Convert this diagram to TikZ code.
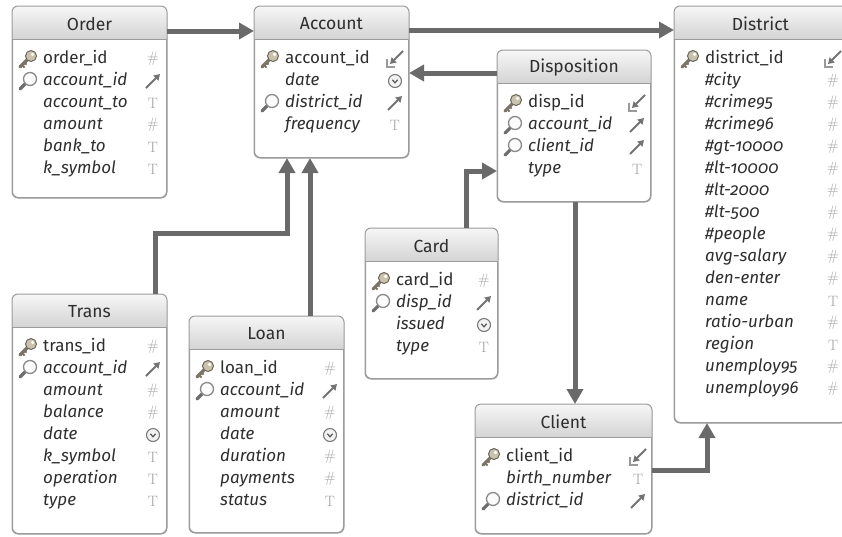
\documentclass[tikz,border=0pt]{standalone}
\usepackage{fontspec}
\usetikzlibrary{arrows.meta,calc}
\newfontfamily\uifont{Fira Sans}
\newfontfamily\fldfont[Numbers=OldStyle]{Fira Sans}
\definecolor{boxline}{HTML}{9C9C9C}
\definecolor{hdrtop}{HTML}{F6F6F6}
\definecolor{hdrbot}{HTML}{D4D4D4}
\definecolor{conncol}{HTML}{6A6A6A}
\definecolor{txt}{HTML}{2E2E2E}
\definecolor{icongray}{HTML}{A0A0A0}
\definecolor{arrowgray}{HTML}{737373}
\definecolor{keyline}{HTML}{7A7566}
\definecolor{keyring}{HTML}{6A665A}
\definecolor{keyfill}{HTML}{C9C3AE}
\definecolor{maghandle}{HTML}{6E6E6E}
\definecolor{magring}{HTML}{8A8A8A}
\definecolor{magfill}{HTML}{FBFBFB}
\definecolor{clockline}{HTML}{7A7A7A}
\definecolor{clockfill}{HTML}{F2F2F2}
\definecolor{clockhand}{HTML}{555555}
\definecolor{pkbox}{HTML}{9A9A9A}
\tikzset{
  boxbody/.style={draw=boxline, line width=1pt, rounded corners=6pt, fill=white, inner sep=0pt},
  boxtitle/.style={font=\uifont\fontsize{17.5}{20}\selectfont, text=txt, inner sep=0pt},
  fieldpk/.style={font=\uifont\fontsize{17}{20}\selectfont, text=txt, inner sep=0pt, anchor=west, text height=12pt, text depth=4pt},
  fieldit/.style={font=\fldfont\itshape\fontsize{17}{20}\selectfont, text=txt, inner sep=0pt, anchor=west, text height=12pt, text depth=4pt},
  icontext/.style={text=icongray, inner sep=0pt, font=\fontsize{15}{16}\selectfont},
  conn/.style={draw=conncol, line width=5pt, -{Triangle[length=15pt,width=16pt]}},
  iconn/.pic={},
  iconk/.pic={
    \draw[line width=3.2pt, draw=keyline, line cap=round] (1,-1) -- (-8,8);
    \draw[line width=1.8pt, draw=keyline] (-6,6) -- (-3.5,8.5) (-3.5,3.5) -- (-1.5,5.5);
    \draw[line width=1pt, draw=keyring, fill=keyfill] (3,-3) circle (5.5);
    \fill[white] (4.6,-4.6) circle (1.8);
  },
  iconm/.pic={
    \draw[line width=3.2pt, draw=maghandle, line cap=round] (-2.5,2.5) -- (-8,8);
    \draw[line width=1.3pt, draw=magring, fill=magfill] (2,-2) circle (6.5);
  },
  iconh/.pic={\node[icontext] (-n) {\#};},
  icont/.pic={\node[icontext, font=\rmfamily\fontsize{15}{16}\selectfont] (-n) {T};},
  iconc/.pic={
    \draw[line width=1.1pt, draw=clockline, fill=clockfill] (0,0) circle (6.5);
    \draw[line width=1.2pt, draw=clockhand] (-2.6,-1.2) -- (0,1.8) -- (2.6,-1.2);
  },
  iconf/.pic={
    \draw[line width=2pt, draw=arrowgray, -{Triangle[length=6pt,width=7pt]}] (-7,7) -- (7,-7);
  },
  iconp/.pic={
    \draw[line width=1.3pt, draw=pkbox] (-8,0) -- (-8,8) -- (0,8);
    \draw[line width=2pt, draw=arrowgray, -{Triangle[length=6pt,width=7pt]}] (8,-8) -- (-5,5);
  }
}
% box: name, x, y, width, height, title
\newcommand\erbox[6]{%
  \node[boxbody, minimum width=#4, minimum height=#5, anchor=north west] (#1) at (#2,#3) {};
  \shade[top color=hdrtop, bottom color=hdrbot]
    ([yshift=-33pt]#1.north west) [rounded corners=6pt] -- (#1.north west) -- (#1.north east) [sharp corners] -- ([yshift=-33pt]#1.north east) -- cycle;
  \draw[boxline, line width=0.8pt] ([yshift=-33pt]#1.north west) -- ([yshift=-33pt]#1.north east);
  \draw[boxline, line width=1pt, rounded corners=6pt] (#1.north west) rectangle (#1.south east);
  \node[boxtitle] (#1-title) at ([yshift=-18pt]#1.north) {#6};
}
% field: box, index, left icon, style, text, right icon
\newcommand\fld[6]{%
  \pgfmathsetmacro\rowy{53+22*(#2-1)}%
  \node[#4] (#1-f#2) at ([xshift=31pt,yshift=-\rowy pt]#1.north west) {#5};
  \pic (#1-l#2) at ([xshift=16pt,yshift=-\rowy pt]#1.north west) {icon#3};
  \pic (#1-r#2) at ([xshift=-14pt,yshift=-\rowy pt]#1.north east) {icon#6};
}
\begin{document}
\begin{tikzpicture}[x=1pt,y=-1pt]
\useasboundingbox (0,0) rectangle (842,536);
\clip (0,0) rectangle (842,536);

% Order
\erbox{order}{12}{6}{154}{191}{Order}
\fld{order}{1}{k}{fieldpk}{order\_id}{h}
\fld{order}{2}{m}{fieldit}{account\_id}{f}
\fld{order}{3}{n}{fieldit}{account\_to}{t}
\fld{order}{4}{n}{fieldit}{amount}{h}
\fld{order}{5}{n}{fieldit}{bank\_to}{t}
\fld{order}{6}{n}{fieldit}{k\_symbol}{t}

% Account
\erbox{account}{254}{6}{154}{151}{Account}
\fld{account}{1}{k}{fieldpk}{account\_id}{p}
\fld{account}{2}{n}{fieldit}{date}{c}
\fld{account}{3}{m}{fieldit}{district\_id}{f}
\fld{account}{4}{n}{fieldit}{frequency}{t}

% District
\erbox{district}{674}{6}{172}{416}{District}
\fld{district}{1}{k}{fieldpk}{district\_id}{p}
\fld{district}{2}{n}{fieldit}{\#city}{h}
\fld{district}{3}{n}{fieldit}{\#crime95}{h}
\fld{district}{4}{n}{fieldit}{\#crime96}{h}
\fld{district}{5}{n}{fieldit}{\#gt-10000}{h}
\fld{district}{6}{n}{fieldit}{\#lt-10000}{h}
\fld{district}{7}{n}{fieldit}{\#lt-2000}{h}
\fld{district}{8}{n}{fieldit}{\#lt-500}{h}
\fld{district}{9}{n}{fieldit}{\#people}{h}
\fld{district}{10}{n}{fieldit}{avg-salary}{h}
\fld{district}{11}{n}{fieldit}{den-enter}{h}
\fld{district}{12}{n}{fieldit}{name}{t}
\fld{district}{13}{n}{fieldit}{ratio-urban}{h}
\fld{district}{14}{n}{fieldit}{region}{t}
\fld{district}{15}{n}{fieldit}{unemploy95}{h}
\fld{district}{16}{n}{fieldit}{unemploy96}{h}

% Disposition
\erbox{disp}{497}{50}{153}{151}{Disposition}
\fld{disp}{1}{k}{fieldpk}{disp\_id}{p}
\fld{disp}{2}{m}{fieldit}{account\_id}{f}
\fld{disp}{3}{m}{fieldit}{client\_id}{f}
\fld{disp}{4}{n}{fieldit}{type}{t}

% Card
\erbox{card}{365}{228}{132}{150}{Card}
\fld{card}{1}{k}{fieldpk}{card\_id}{h}
\fld{card}{2}{m}{fieldit}{disp\_id}{f}
\fld{card}{3}{n}{fieldit}{issued}{c}
\fld{card}{4}{n}{fieldit}{type}{t}

% Client
\erbox{client}{475}{404}{176}{129}{Client}
\fld{client}{1}{k}{fieldpk}{client\_id}{p}
\fld{client}{2}{n}{fieldit}{birth\_number}{t}
\fld{client}{3}{m}{fieldit}{district\_id}{f}

% Trans
\erbox{trans}{12}{294}{154}{239}{Trans}
\fld{trans}{1}{k}{fieldpk}{trans\_id}{h}
\fld{trans}{2}{m}{fieldit}{account\_id}{f}
\fld{trans}{3}{n}{fieldit}{amount}{h}
\fld{trans}{4}{n}{fieldit}{balance}{h}
\fld{trans}{5}{n}{fieldit}{date}{c}
\fld{trans}{6}{n}{fieldit}{k\_symbol}{t}
\fld{trans}{7}{n}{fieldit}{operation}{t}
\fld{trans}{8}{n}{fieldit}{type}{t}

% Loan
\erbox{loan}{189}{316}{154}{216}{Loan}
\fld{loan}{1}{k}{fieldpk}{loan\_id}{h}
\fld{loan}{2}{m}{fieldit}{account\_id}{f}
\fld{loan}{3}{n}{fieldit}{amount}{h}
\fld{loan}{4}{n}{fieldit}{date}{c}
\fld{loan}{5}{n}{fieldit}{duration}{h}
\fld{loan}{6}{n}{fieldit}{payments}{h}
\fld{loan}{7}{n}{fieldit}{status}{t}

% Connectors
\draw[conn] ([yshift=-25pt]order.north east) -- ([yshift=-25pt]account.north west);
\draw[conn] ([yshift=-24pt]account.north east) -- ([yshift=-24pt]district.north west);
\draw[conn] ([yshift=-23pt]disp.north west) -- ([yshift=-23pt]disp.north west -| account.east);
\draw[conn] ([xshift=143pt]trans.north west) -- ++(0,-61) -| ([xshift=33pt]account.south west);
\draw[conn] ([xshift=121pt]loan.north west) -- ([xshift=56pt]account.south west);
\draw[conn] ([xshift=101pt]card.north west) |- ([yshift=-121pt]disp.north west);
\draw[conn] ([xshift=78pt]disp.south west) -- ([xshift=100pt]client.north west);
\draw[conn] ([yshift=-66pt]client.north east) -| ([xshift=33pt]district.south west);
\end{tikzpicture}
\end{document}
